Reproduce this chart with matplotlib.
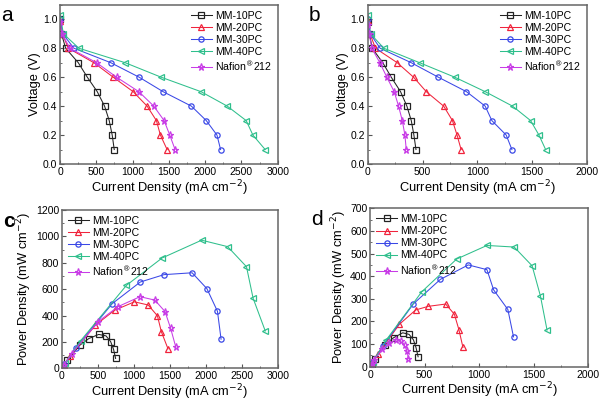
import matplotlib
matplotlib.use("Agg")
import matplotlib.pyplot as plt
from matplotlib.ticker import MultipleLocator

plt.rcParams['font.family'] = ['Liberation Sans', 'DejaVu Sans']

# === DATA ===
names = ['MM-10PC', 'MM-20PC', 'MM-30PC', 'MM-40PC', 'Nafion$^{\u00ae}$212']
colors = ['#222222', '#f0243c', '#3a48e6', '#2fbf8c', '#c83ce6']
markers = ['s', '^', 'o', '<', '*']

# voltage steps (first point = open circuit voltage)
volt_a = [[1.00, 0.9, 0.8, 0.7, 0.6, 0.5, 0.4, 0.3, 0.2, 0.1],
          [0.99, 0.9, 0.8, 0.7, 0.6, 0.5, 0.4, 0.3, 0.2, 0.1],
          [1.00, 0.9, 0.8, 0.7, 0.6, 0.5, 0.4, 0.3, 0.2, 0.1],
          [1.03, 0.9, 0.8, 0.7, 0.6, 0.5, 0.4, 0.3, 0.2, 0.1],
          [0.98, 0.9, 0.8, 0.7, 0.6, 0.5, 0.4, 0.3, 0.2, 0.1]]
volt_b = [[0.98, 0.9, 0.8, 0.7, 0.6, 0.5, 0.4, 0.3, 0.2, 0.1],
          [0.99, 0.9, 0.8, 0.7, 0.6, 0.5, 0.4, 0.3, 0.2, 0.1],
          [1.00, 0.9, 0.8, 0.7, 0.6, 0.5, 0.4, 0.3, 0.2, 0.1],
          [1.03, 0.9, 0.8, 0.7, 0.6, 0.5, 0.4, 0.3, 0.2, 0.1],
          [0.96, 0.9, 0.8, 0.7, 0.6, 0.5, 0.4, 0.3, 0.2, 0.1]]

# current density, panel a / c
cur_a = [[3, 20, 78, 252, 376, 513, 614, 678, 719, 747],
         [3, 32, 115, 467, 733, 1008, 1200, 1328, 1383, 1475],
         [3, 37, 192, 700, 1090, 1420, 1810, 2015, 2162, 2212],
         [3, 46, 261, 898, 1393, 1942, 2304, 2565, 2657, 2826],
         [3, 27, 137, 504, 779, 1086, 1292, 1434, 1512, 1585]]
pow_c = [[3, 18, 62, 176, 226, 257, 246, 203, 144, 75],
         [3, 29, 92, 327, 440, 504, 480, 398, 277, 148],
         [3, 33, 154, 490, 654, 710, 724, 604, 432, 221],
         [3, 41, 209, 629, 836, 971, 922, 770, 531, 283],
         [3, 24, 110, 353, 467, 543, 517, 430, 302, 158]]

# current density, panel b / d
cur_b = [[3, 15, 40, 137, 214, 299, 357, 397, 421, 440],
         [3, 20, 70, 269, 418, 534, 693, 773, 815, 852],
         [3, 22, 113, 397, 644, 901, 1072, 1133, 1264, 1316],
         [3, 25, 147, 473, 794, 1072, 1322, 1487, 1563, 1624],
         [3, 12, 37, 110, 174, 241, 281, 315, 339, 351]]
pow_d = [[3, 14, 32, 96, 128, 150, 143, 119, 84, 44],
         [3, 18, 56, 188, 251, 267, 277, 232, 163, 85],
         [3, 20, 90, 278, 386, 450, 429, 340, 253, 132],
         [3, 23, 118, 331, 476, 536, 529, 446, 313, 162],
         [3, 11, 30, 77, 104, 120, 112, 94, 68, 35]]

xlabel = 'Current Density (mA cm$^{-2}$)'
tick_size = 7.5
label_size = 9.3

fig = plt.figure(figsize=(6.0, 4.03), dpi=100)

panels = [
    ('a', [0.100, 0.593, 0.363, 0.395], cur_a, volt_a, 'Voltage (V)', (0, 3000), 500, 250, (0, 1.1), 0.2, 0.1),
    ('b', [0.613, 0.593, 0.365, 0.395], cur_b, volt_b, 'Voltage (V)', (0, 2000), 500, 250, (0, 1.1), 0.2, 0.1),
    ('c', [0.103, 0.086, 0.360, 0.393], cur_a, pow_c, 'Power Density (mW cm$^{-2}$)', (0, 3000), 500, 250, (0, 1200), 200, 100),
    ('d', [0.617, 0.090, 0.363, 0.393], cur_b, pow_d, 'Power Density (mW cm$^{-2}$)', (0, 2000), 500, 250, (0, 700), 100, 50),
]

for letter, rect, xs, ys, ylab, xlim, xmaj, xmin, ylim, ymaj, ymin in panels:
    ax = fig.add_axes(rect)
    for i in range(len(names)):
        ax.plot(xs[i], ys[i], color=colors[i], marker=markers[i],
                markerfacecolor='none', markeredgecolor=colors[i],
                markersize=5.2 if markers[i] == '*' else 3.8,
                markeredgewidth=0.9, linewidth=0.75, label=names[i])
    ax.set_xlim(*xlim)
    ax.set_ylim(*ylim)
    ax.xaxis.set_major_locator(MultipleLocator(xmaj))
    ax.xaxis.set_minor_locator(MultipleLocator(xmin))
    ax.yaxis.set_major_locator(MultipleLocator(ymaj))
    ax.yaxis.set_minor_locator(MultipleLocator(ymin))
    if letter in 'ab':
        ax.yaxis.set_major_formatter(plt.FuncFormatter(lambda v, p: f'{v:.1f}'))
    ax.tick_params(which='both', direction='in', labelsize=tick_size, color='#555555', pad=2)
    ax.tick_params(which='major', length=3)
    ax.tick_params(which='minor', length=1.5)
    for s in ax.spines.values():
        s.set_color('#666666')
        s.set_linewidth(1.1)
    ax.set_xlabel(xlabel, fontsize=label_size, labelpad=1)
    ax.set_ylabel(ylab, fontsize=label_size, labelpad=1)
    if letter in 'ab':
        ax.legend(loc='upper right', bbox_to_anchor=(1.0, 1.0), fontsize=7.6,
                  frameon=False, handlelength=2.0, handletextpad=0.3,
                  labelspacing=0.2, borderaxespad=0.15)
    else:
        ax.legend(loc='upper left', fontsize=7.6, frameon=False,
                  handlelength=2.0, handletextpad=0.3, labelspacing=0.2,
                  borderaxespad=0.15)
    bb = ax.get_position()
    fig.text(bb.x0 - 0.098, bb.y1 - 0.004, letter, fontsize=15,
             fontweight='bold' if letter == 'c' else 'normal', va='top', ha='left')

fig.savefig('out.png', dpi=100)
